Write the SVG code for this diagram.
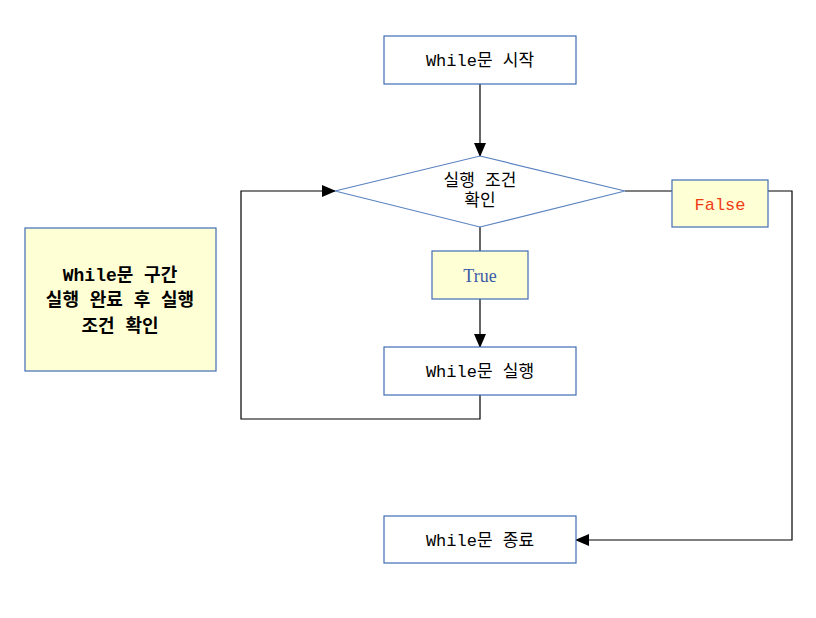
<svg xmlns="http://www.w3.org/2000/svg" width="816" height="618" viewBox="0 0 816 618">
<style>
.box{fill:#ffffff;stroke:#3f6db5;stroke-width:1.2}
.ybox{fill:#ffffd5;stroke:#3f6db5;stroke-width:1.2}
.t{font-family:"Liberation Mono","Noto Sans CJK KR",monospace;font-size:17px;fill:#000;text-anchor:middle;dominant-baseline:central}
.b{font-weight:bold;font-size:18px}
.ln{fill:none;stroke:#000;stroke-width:1.2}
</style>
<defs>
<marker id="ah" markerWidth="14" markerHeight="12" refX="13" refY="6" orient="auto" markerUnits="userSpaceOnUse">
<path d="M0,0 L14,6 L0,12 z" fill="#000"/>
</marker>
</defs>
<rect width="816" height="618" fill="#fff"/>
<g id="connectors">
<path class="ln" d="M480,84 V156" marker-end="url(#ah)"/>
<path class="ln" d="M480,227 V251"/>
<path class="ln" d="M480,299 V347" marker-end="url(#ah)"/>
<path class="ln" d="M480,395 V419 H241 V191 H335" marker-end="url(#ah)"/>
<path class="ln" d="M625,191 H672"/>
<path class="ln" d="M768,191 H792 V540 H576" marker-end="url(#ah)"/>
</g>
<g id="start">
<rect class="box" x="384" y="36" width="192" height="48"/>
<text class="t" x="480" y="61">While문 시작</text>
</g>
<g id="condition">
<polygon points="480,156 625,191 480,227 335,191" fill="#fff" stroke="#5a82c0" stroke-width="1.2"/>
<text class="t" x="480" y="181">실행 조건</text>
<text class="t" x="480" y="201">확인</text>
</g>
<g id="true">
<rect class="ybox" x="432" y="251" width="96" height="48"/>
<text class="t" x="480" y="276" style="font-family:'Liberation Serif',serif;fill:#3a5aa8;font-size:18px">True</text>
</g>
<g id="false">
<rect class="ybox" x="672" y="180" width="96" height="47"/>
<text class="t" x="720" y="205" style="fill:#f03c14">False</text>
</g>
<g id="execute">
<rect class="box" x="384" y="347" width="192" height="48"/>
<text class="t" x="480" y="372">While문 실행</text>
</g>
<g id="end">
<rect class="box" x="384" y="516" width="192" height="47"/>
<text class="t" x="480" y="541">While문 종료</text>
</g>
<g id="note">
<rect class="ybox" x="25" y="228" width="191" height="143"/>
<text class="t b" x="120" y="276">While문 구간</text>
<text class="t b" x="120" y="301">실행 완료 후 실행</text>
<text class="t b" x="120" y="327">조건 확인</text>
</g>
</svg>
